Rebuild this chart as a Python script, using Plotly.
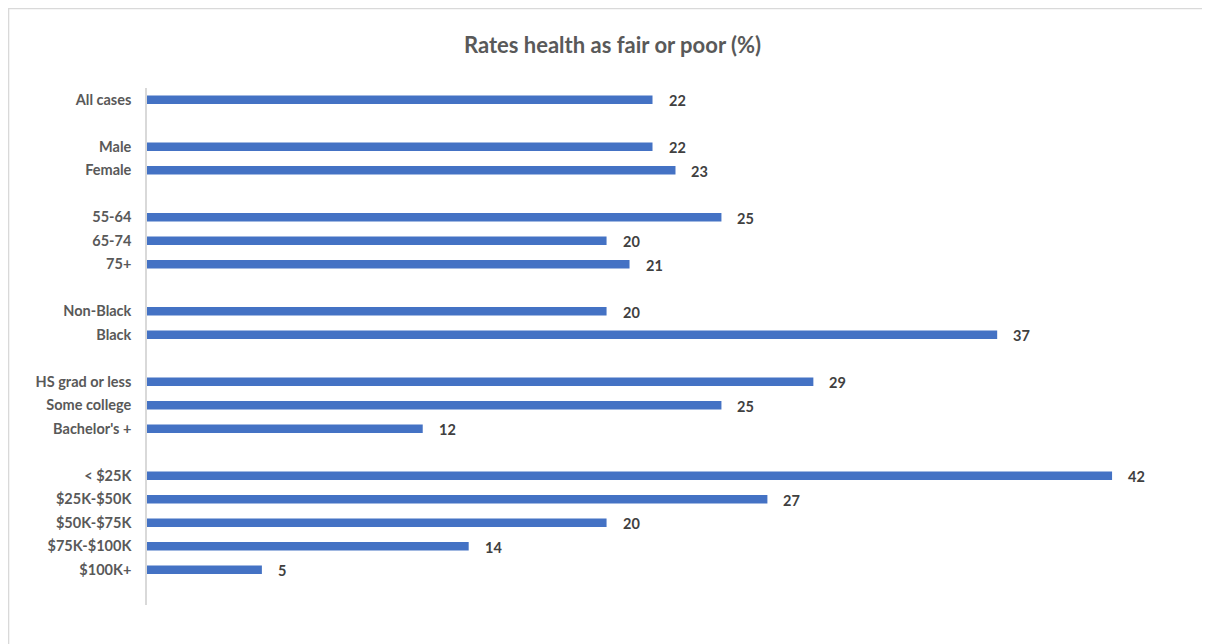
import plotly.graph_objects as go

# Data (None = spacer row between groups)
categories = ["All cases", " ", "Male", "Female", "  ",
              "55-64", "65-74", "75+", "   ",
              "Non-Black", "Black", "    ",
              "HS grad or less", "Some college", "Bachelor's +", "     ",
              "< $25K", "$25K-$50K", "$50K-$75K", "$75K-$100K", "$100K+", "      "]
values = [22, None, 22, 23, None,
          25, 20, 21, None,
          20, 37, None,
          29, 25, 12, None,
          42, 27, 20, 14, 5, None]

BAR = "#4472C4"
FONT = "Lato, Calibri, Carlito, 'Open Sans', sans-serif"

fig = go.Figure(go.Bar(
    x=values, y=categories, orientation="h",
    marker=dict(color=BAR, line=dict(width=0)),
    hoverinfo="x+y",
))

for c, v in zip(categories, values):
    if v is None:
        continue
    fig.add_annotation(x=v, y=c, text=f"<b>{v}</b>", showarrow=False,
                       xanchor="left", yanchor="middle", xshift=14, yshift=-1,
                       font=dict(family=FONT, size=14.5, color="#404040"))

fig.update_layout(
    width=1210, height=644,
    paper_bgcolor="white", plot_bgcolor="white",
    margin=dict(l=139, r=37, t=80, b=47),
    bargap=0.64,
    showlegend=False,
    title=dict(text="<b>Rates health as fair or poor (%)</b>",
               x=0.4996, xref="container", y=0.9425, yref="container",
               xanchor="center", yanchor="middle",
               font=dict(family=FONT, size=22, color="#595959")),
    xaxis=dict(range=[0, 45], visible=False, showgrid=False, zeroline=False),
    yaxis=dict(autorange="reversed", type="category",
               categoryorder="array", categoryarray=categories,
               showline=True, linecolor="#D9D9D9", linewidth=1.5,
               ticks="", showgrid=False, ticklabelstandoff=11,
               tickfont=dict(family=FONT, size=14.5, color="#595959")),
)
# bold tick labels
fig.update_yaxes(tickvals=categories,
                 ticktext=[f"<b>{c}</b>" if c.strip() else "" for c in categories])

# outer chart border
fig.add_shape(type="rect", xref="paper", yref="paper",
              x0=-0.1339, x1=1.027, y0=-0.2, y1=1.1538,
              line=dict(color="#D9D9D9", width=1.5), fillcolor="rgba(0,0,0,0)",
              layer="below")

fig.write_html("out.html")
